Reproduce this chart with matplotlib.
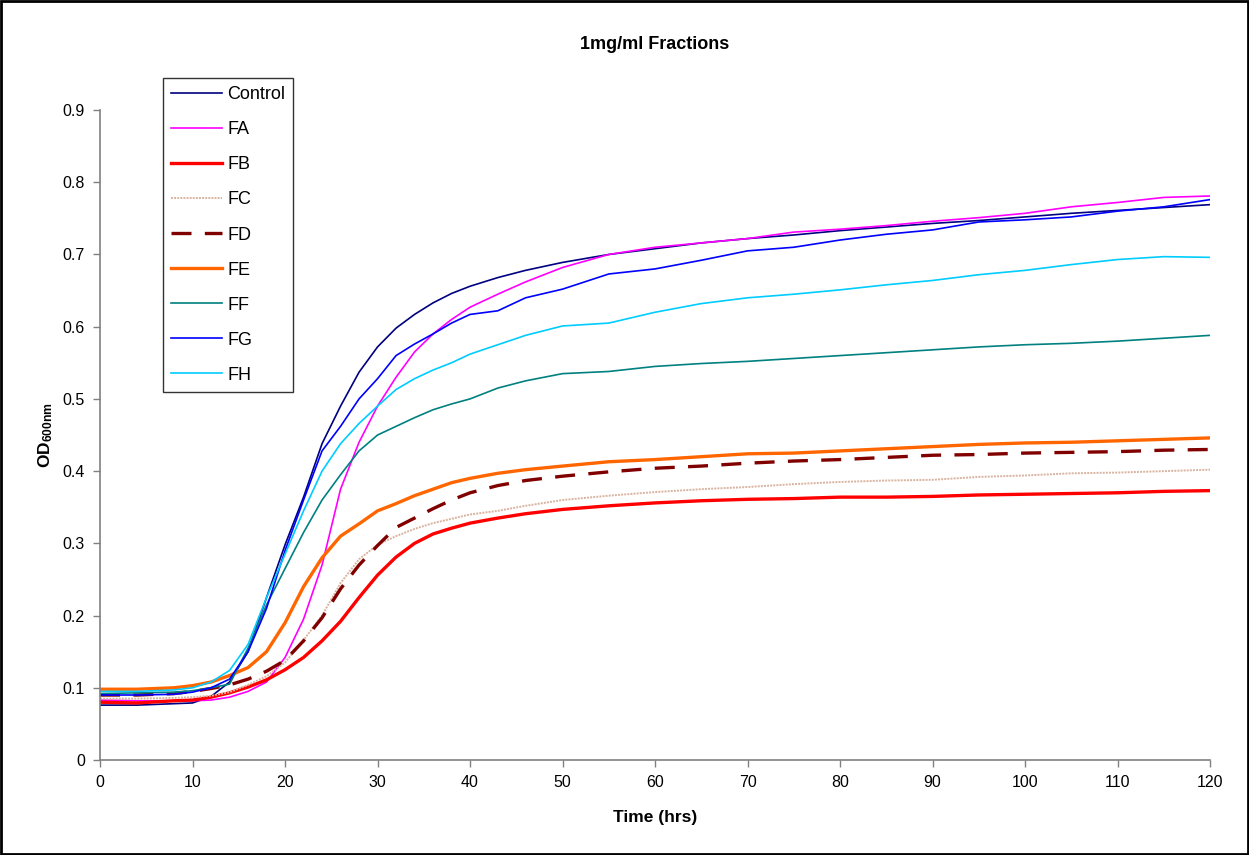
import matplotlib
matplotlib.use('Agg')
import matplotlib.pyplot as plt
from matplotlib.patches import Rectangle

plt.rcParams['font.family'] = ['Liberation Sans', 'DejaVu Sans']
plt.rcParams['mathtext.fontset'] = 'custom'
plt.rcParams['mathtext.rm'] = 'Liberation Sans'
plt.rcParams['mathtext.bf'] = 'Liberation Sans:bold'

# sampling times (hrs)
hours = [0, 4, 8, 10, 12, 14, 16, 18, 20, 22, 24, 26, 28, 30, 32, 34, 36, 38, 40,
         43, 46, 50, 55, 60, 65, 70, 75, 80, 85, 90, 95, 100, 105, 110, 115, 120]

control = [0.076, 0.076, 0.078, 0.079, 0.088, 0.108, 0.150, 0.225, 0.298, 0.364, 0.438,
           0.490, 0.537, 0.572, 0.598, 0.617, 0.633, 0.646, 0.656, 0.668, 0.678, 0.689,
           0.700, 0.708, 0.716, 0.722, 0.727, 0.733, 0.738, 0.743, 0.747, 0.752, 0.757,
           0.761, 0.765, 0.769]
fa = [0.083, 0.082, 0.082, 0.082, 0.083, 0.087, 0.095, 0.108, 0.142, 0.195, 0.270,
      0.375, 0.440, 0.490, 0.530, 0.565, 0.590, 0.610, 0.627, 0.645, 0.662, 0.682,
      0.700, 0.710, 0.716, 0.722, 0.731, 0.735, 0.740, 0.746, 0.751, 0.757, 0.766,
      0.772, 0.779, 0.781]
fb = [0.080, 0.079, 0.082, 0.083, 0.087, 0.093, 0.101, 0.111, 0.125, 0.142, 0.165,
      0.192, 0.225, 0.256, 0.281, 0.300, 0.313, 0.321, 0.328, 0.335, 0.341, 0.347,
      0.352, 0.356, 0.359, 0.361, 0.362, 0.364, 0.364, 0.365, 0.367, 0.368, 0.369,
      0.370, 0.372, 0.373]
fc = [0.085, 0.085, 0.086, 0.087, 0.089, 0.094, 0.104, 0.116, 0.135, 0.166, 0.200,
      0.245, 0.278, 0.298, 0.310, 0.320, 0.328, 0.334, 0.340, 0.345, 0.352, 0.360,
      0.366, 0.371, 0.375, 0.378, 0.382, 0.385, 0.387, 0.388, 0.392, 0.394, 0.397,
      0.398, 0.400, 0.402]
fd = [0.090, 0.090, 0.092, 0.095, 0.099, 0.104, 0.112, 0.123, 0.138, 0.165, 0.197,
      0.237, 0.270, 0.297, 0.322, 0.335, 0.348, 0.360, 0.370, 0.380, 0.387, 0.393,
      0.399, 0.404, 0.407, 0.411, 0.414, 0.416, 0.419, 0.422, 0.423, 0.425, 0.426,
      0.427, 0.429, 0.430]
fe = [0.098, 0.098, 0.100, 0.103, 0.108, 0.117, 0.128, 0.150, 0.190, 0.240, 0.280,
      0.310, 0.327, 0.345, 0.355, 0.366, 0.375, 0.384, 0.390, 0.397, 0.402, 0.407,
      0.413, 0.416, 0.420, 0.424, 0.425, 0.428, 0.431, 0.434, 0.437, 0.439, 0.440,
      0.442, 0.444, 0.446]
ff = [0.092, 0.093, 0.094, 0.096, 0.100, 0.105, 0.155, 0.215, 0.265, 0.315, 0.360,
      0.395, 0.428, 0.450, 0.462, 0.474, 0.485, 0.493, 0.500, 0.515, 0.525, 0.535,
      0.538, 0.545, 0.549, 0.552, 0.556, 0.560, 0.564, 0.568, 0.572, 0.575, 0.577,
      0.580, 0.584, 0.588]
fg = [0.090, 0.090, 0.091, 0.094, 0.100, 0.112, 0.150, 0.210, 0.290, 0.360, 0.428,
      0.462, 0.500, 0.528, 0.560, 0.576, 0.590, 0.605, 0.617, 0.622, 0.640, 0.652,
      0.673, 0.680, 0.692, 0.705, 0.710, 0.720, 0.728, 0.734, 0.745, 0.748, 0.752,
      0.760, 0.766, 0.776]
fh = [0.095, 0.095, 0.097, 0.100, 0.108, 0.124, 0.160, 0.225, 0.285, 0.345, 0.400,
      0.438, 0.466, 0.490, 0.513, 0.528, 0.540, 0.550, 0.562, 0.575, 0.588, 0.601,
      0.605, 0.620, 0.632, 0.640, 0.645, 0.651, 0.658, 0.664, 0.672, 0.678, 0.686,
      0.693, 0.697, 0.696]

series = [
    ('Control', control, dict(color='#000080', lw=1.2)),
    ('FA', fa, dict(color='#FF00FF', lw=1.2)),
    ('FB', fb, dict(color='#FF0000', lw=2.4)),
    ('FC', fc, dict(color='#D9B3A0', lw=1.4, ls=(0, (1, 0.6)))),
    ('FD', fd, dict(color='#800000', lw=2.4, ls=(0, (6, 4)))),
    ('FE', fe, dict(color='#FF6600', lw=2.4)),
    ('FF', ff, dict(color='#008080', lw=1.2)),
    ('FG', fg, dict(color='#0000FF', lw=1.2)),
    ('FH', fh, dict(color='#00CCFF', lw=1.2)),
]

fig = plt.figure(figsize=(12.49, 8.55), dpi=100)
ax = fig.add_axes([0.0801, 0.1111, 0.8887, 0.7602])

for name, vals, style in series:
    ax.plot(hours, vals, label=name, **style)

ax.set_xlim(0, 120)
ax.set_ylim(0, 0.9)
ax.set_xticks(range(0, 121, 10))
ax.set_yticks([i / 10 for i in range(10)])
ax.set_yticklabels(['0'] + ['0.%d' % i for i in range(1, 10)])
for side in ['top', 'right']:
    ax.spines[side].set_visible(False)
for side in ['left', 'bottom']:
    ax.spines[side].set_color('#808080')
    ax.spines[side].set_linewidth(1.2)
ax.tick_params(direction='out', length=5, width=1, color='#808080',
               labelsize=11.5, pad=6)

ax.set_xlabel('Time (hrs)', fontsize=12.5, fontweight='bold', labelpad=14)
ax.set_ylabel(r'$\mathbf{OD_{600nm}}$', fontsize=12.5, labelpad=5)
fig.text(0.524, 0.948, '1mg/ml Fractions', ha='center', va='center',
         fontsize=13, fontweight='bold')

leg = ax.legend(loc='upper left', bbox_to_anchor=(0.0568, 1.049), frameon=True,
                fancybox=False, fontsize=13, handlelength=2.8, handletextpad=0.3,
                labelspacing=1.0, borderpad=0.45, borderaxespad=0)
leg.get_frame().set_edgecolor('black')
leg.get_frame().set_linewidth(1.0)

# outer chart frame
fig.patches.append(Rectangle((0.001, 0.001), 0.998, 0.998, transform=fig.transFigure,
                             fill=False, edgecolor='black', linewidth=2))

fig.savefig('out.png', dpi=100)
